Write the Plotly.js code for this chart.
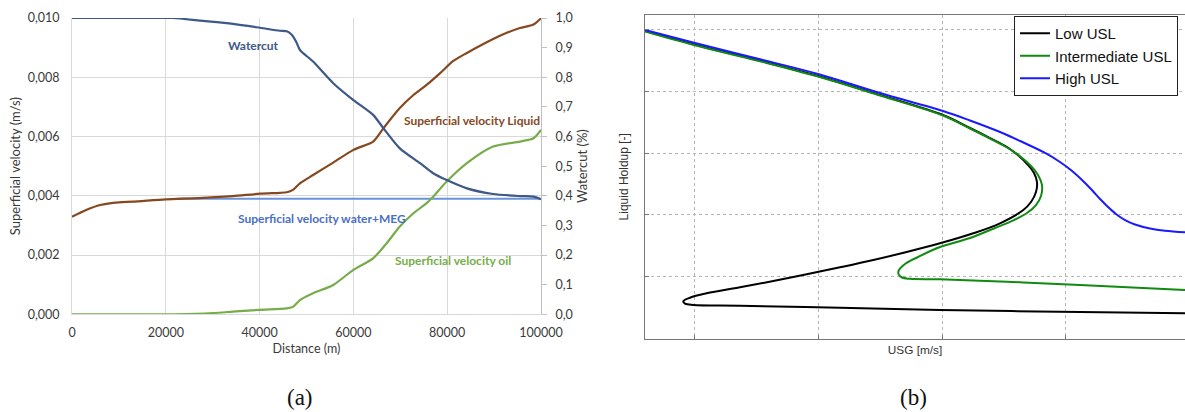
<!DOCTYPE html>
<html>
<head>
<meta charset="utf-8">
<script src="https://cdn.plot.ly/plotly-3.0.1.min.js"></script>
<style>
  html, body { margin: 0; padding: 0; background: #fff; }
  #chart { width: 1185px; height: 412px; }
</style>
</head>
<body>
<div id="chart"></div>
<script>
// ---------- (a) pipeline profiles along the distance ----------
const liquidDist = [0, 3000, 6000, 10000, 13000, 20000, 27000, 34300, 40100, 44300, 45800, 47100, 48600, 51400, 55700, 60000, 64200, 66400, 69900, 72800, 75600, 78500, 81300, 84200, 89800, 92700, 95500, 98400, 100000];
const liquidVel  = [0.00329, 0.00352, 0.00369, 0.00378, 0.0038, 0.00388, 0.00392, 0.00399, 0.00407, 0.0041, 0.00412, 0.0042, 0.00442, 0.0047, 0.00512, 0.00555, 0.00583, 0.00628, 0.00696, 0.0074, 0.00774, 0.00814, 0.00855, 0.00882, 0.00929, 0.0095, 0.00966, 0.00978, 0.00999];

const waterDist = [22400, 100000];
const waterVel  = [0.0039, 0.0039];

const oilDist = [0, 22000, 30000, 35000, 40000, 44300, 45800, 47200, 48600, 51400, 55700, 60000, 64200, 67100, 69900, 72800, 75600, 77000, 79900, 84200, 89800, 95500, 98400, 100000];
const oilVel  = [0, 0, 0.00004, 0.0001, 0.00015, 0.00018, 0.0002, 0.00026, 0.00048, 0.00071, 0.00099, 0.0015, 0.00189, 0.0024, 0.00296, 0.00341, 0.00375, 0.00397, 0.00448, 0.0051, 0.00566, 0.00583, 0.00594, 0.00622];

const watercutDist = [0, 10000, 21500, 27300, 34300, 40100, 44300, 45800, 46900, 47800, 48600, 51400, 55700, 60000, 64200, 66400, 69900, 74200, 77000, 79900, 84200, 89800, 95500, 98400, 100000];
const watercut     = [1.0, 1.0, 1.0, 0.991, 0.98, 0.967, 0.957, 0.955, 0.943, 0.92, 0.892, 0.853, 0.78, 0.723, 0.673, 0.628, 0.56, 0.51, 0.476, 0.453, 0.425, 0.406, 0.399, 0.397, 0.388];

const distTicks = [0, 20000, 40000, 60000, 80000, 100000];

// ---------- (b) liquid holdup versus gas superficial velocity ----------
const lowUsg = [0.3, 0.502, 0.7523, 0.9987, 1.2491, 1.5036, 1.6126, 1.6934, 1.762, 1.8105, 1.8469, 1.8711, 1.8832, 1.8792, 1.859, 1.8279, 1.7338, 1.6259, 1.4914, 1.3569, 1.2221, 1.0876, 0.9531, 0.8182, 0.6837, 0.5492, 0.4817, 0.4547, 0.4616, 0.4951, 0.6837, 1.0876, 1.4914, 2.0569, 2.481];
const lowHoldup = [0.4976, 0.4754, 0.4506, 0.4248, 0.394, 0.3616, 0.3406, 0.3244, 0.3099, 0.2953, 0.2808, 0.2678, 0.2532, 0.2371, 0.2209, 0.2079, 0.1864, 0.1702, 0.154, 0.14, 0.127, 0.1152, 0.1039, 0.093, 0.0828, 0.0731, 0.066, 0.0602, 0.0563, 0.0542, 0.0531, 0.0498, 0.0461, 0.0429, 0.0408];

const midUsg = [0.3, 0.5019, 0.7523, 0.9987, 1.2491, 1.5036, 1.6126, 1.6934, 1.762, 1.8186, 1.859, 1.8873, 1.9034, 1.8994, 1.8792, 1.8428, 1.7903, 1.7136, 1.6126, 1.4914, 1.4026, 1.3501, 1.3258, 1.3238, 1.338, 1.3703, 1.4914, 1.762, 2.0569, 2.481];
const midHoldup = [0.4968, 0.4746, 0.4498, 0.4239, 0.3932, 0.3608, 0.3398, 0.3236, 0.3091, 0.2937, 0.2791, 0.2646, 0.2484, 0.2306, 0.216, 0.2031, 0.1917, 0.1788, 0.1626, 0.1481, 0.1319, 0.1206, 0.1108, 0.1044, 0.0987, 0.0966, 0.0958, 0.0919, 0.0866, 0.0785];

const highUsg = [0.3, 0.5019, 0.7523, 0.9987, 1.2491, 1.5036, 1.6126, 1.734, 1.815, 1.916, 1.976, 2.025, 2.065, 2.105, 2.138, 2.17, 2.202, 2.239, 2.279, 2.34, 2.4, 2.481];
const highHoldup = [0.4992, 0.4782, 0.4531, 0.428, 0.3972, 0.3681, 0.3528, 0.3341, 0.3196, 0.3002, 0.2856, 0.271, 0.2565, 0.2403, 0.2257, 0.2128, 0.2015, 0.1917, 0.1845, 0.178, 0.1743, 0.1718];

const W = 1185, H = 412;
const px = v => v / W;
const py = v => 1 - v / H;

const C = {
  liquid: '#86491f',
  water: '#6a93dc',
  waterText: '#4a6fc4',
  oil: '#76ad4a',
  watercut: '#3d5889',
  grid: '#d9d9d9',
  text: '#3a3a3a'
};
const fontA = 'Lato, "Open Sans", sans-serif';
const fontB = '"Liberation Sans", Arial, sans-serif';

const traces = [
  { x: waterDist, y: waterVel, xaxis: 'x', yaxis: 'y', mode: 'lines',
    line: { color: C.water, width: 2.2 }, showlegend: false, name: 'water+MEG' },
  { x: liquidDist, y: liquidVel, xaxis: 'x', yaxis: 'y', mode: 'lines',
    line: { color: C.liquid, width: 2.2, shape: 'spline', smoothing: 0.7 }, showlegend: false, name: 'Liquid' },
  { x: oilDist, y: oilVel, xaxis: 'x', yaxis: 'y', mode: 'lines',
    line: { color: C.oil, width: 2.2, shape: 'spline', smoothing: 0.7 }, showlegend: false, name: 'oil' },
  { x: watercutDist, y: watercut, xaxis: 'x', yaxis: 'y2', mode: 'lines',
    line: { color: C.watercut, width: 2.2, shape: 'spline', smoothing: 0.7 }, showlegend: false, name: 'Watercut' },

  { x: lowUsg, y: lowHoldup, xaxis: 'x2', yaxis: 'y3', mode: 'lines', name: 'Low USL',
    line: { color: '#000000', width: 2, shape: 'spline', smoothing: 1 } },
  { x: midUsg, y: midHoldup, xaxis: 'x2', yaxis: 'y3', mode: 'lines', name: 'Intermediate USL',
    line: { color: '#118a11', width: 2, shape: 'spline', smoothing: 1 } },
  { x: highUsg, y: highHoldup, xaxis: 'x2', yaxis: 'y3', mode: 'lines', name: 'High USL',
    line: { color: '#1a1aff', width: 2, shape: 'spline', smoothing: 1 } }
];

const annA = (text, x, y, color) => ({
  text: '<b>' + text + '</b>', x: x, y: y, xref: 'x', yref: 'y',
  showarrow: false, font: { family: fontA, size: 12, color: color }
});

const layout = {
  width: W, height: H,
  margin: { l: 0, r: 0, t: 0, b: 0 },
  paper_bgcolor: '#ffffff', plot_bgcolor: '#ffffff',
  separators: ',.',
  showlegend: true,
  legend: {
    x: px(1014), y: py(16), xanchor: 'left', yanchor: 'top',
    bordercolor: '#222', borderwidth: 1, bgcolor: '#ffffff',
    font: { family: fontB, size: 15, color: '#111' }
  },

  xaxis: {
    domain: [px(72), px(541)], anchor: 'y',
    range: [0, 100000], tickvals: distTicks, tickformat: 'd',
    showgrid: true, gridcolor: C.grid, gridwidth: 1,
    showline: true, linecolor: C.grid, zeroline: false,
    ticks: '', ticklabelstandoff: 7,
    tickfont: { family: fontA, size: 12.5, color: C.text },
    title: { text: 'Distance (m)', standoff: 4, font: { family: fontA, size: 12.5, color: C.text } }
  },
  yaxis: {
    domain: [py(314.3), py(18)], anchor: 'x',
    range: [0, 0.010], dtick: 0.002, tick0: 0, tickformat: '.3f',
    showgrid: true, gridcolor: C.grid, gridwidth: 1,
    showline: true, linecolor: C.grid, zeroline: false,
    ticks: '', ticklabelstandoff: 9,
    tickfont: { family: fontA, size: 12.5, color: C.text },
    title: { text: 'Superficial velocity (m/s)', standoff: 4, font: { family: fontA, size: 13, color: C.text } }
  },
  yaxis2: {
    overlaying: 'y', side: 'right', anchor: 'x',
    range: [0, 1.0], dtick: 0.1, tick0: 0, tickformat: '.1f',
    showgrid: false, zeroline: false,
    showline: true, linecolor: '#bfbfbf',
    ticks: 'outside', ticklen: 5, tickcolor: '#bfbfbf', ticklabelstandoff: 6,
    tickfont: { family: fontA, size: 12.5, color: C.text },
    title: { text: 'Watercut (%)', standoff: 6, font: { family: fontA, size: 13, color: C.text } }
  },

  xaxis2: {
    domain: [px(645), 1], anchor: 'y3',
    range: [0.3, 2.481], dtick: 0.5, tick0: 0.5,
    showgrid: true, gridcolor: '#b5b5b5', griddash: 'dot', gridwidth: 1,
    showline: true, mirror: true, linecolor: '#777777', linewidth: 1.5, zeroline: false,
    ticks: 'inside', ticklen: 4, tickcolor: '#777777',
    showticklabels: false,
    title: { text: 'USG [m/s]', standoff: 6, font: { family: fontB, size: 11.8, color: '#333' } }
  },
  yaxis3: {
    domain: [py(338.5), py(15)], anchor: 'x2',
    range: [0, 0.5235], dtick: 0.1, tick0: 0,
    showgrid: true, gridcolor: '#b5b5b5', griddash: 'dot', gridwidth: 1,
    showline: true, linecolor: '#777777', linewidth: 1.5, zeroline: false,
    ticks: 'inside', ticklen: 4, tickcolor: '#777777',
    showticklabels: false,
    title: { text: 'Liquid Holdup [-]', standoff: 12, font: { family: fontB, size: 12, color: '#333' } }
  },

  annotations: [
    annA('Watercut', 38600, 0.009055, C.watercut),
    annA('Superficial velocity Liquid', 85200, 0.006534, C.liquid),
    annA('Superficial velocity water+MEG', 53400, 0.00324, C.waterText),
    annA('Superficial velocity oil', 81200, 0.0018, C.oil),
    { text: '(a)', x: px(300), y: py(397), xref: 'paper', yref: 'paper',
      xanchor: 'center', yanchor: 'middle', showarrow: false,
      font: { family: '"Liberation Serif", "DejaVu Serif", serif', size: 23, color: '#111' } },
    { text: '(b)', x: px(913), y: py(397), xref: 'paper', yref: 'paper',
      xanchor: 'center', yanchor: 'middle', showarrow: false,
      font: { family: '"Liberation Serif", "DejaVu Serif", serif', size: 23, color: '#111' } }
  ]
};

Plotly.newPlot('chart', traces, layout, { staticPlot: true, displayModeBar: false });
</script>
</body>
</html>
